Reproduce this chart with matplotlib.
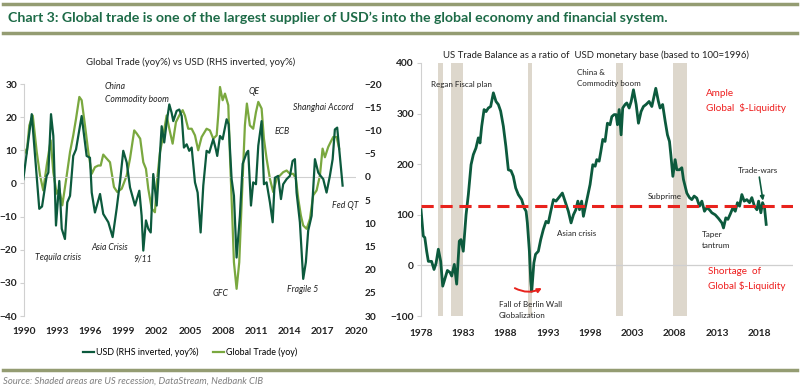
import matplotlib
matplotlib.use("Agg")
import matplotlib.pyplot as plt
from matplotlib.lines import Line2D
from matplotlib.patches import FancyArrowPatch

plt.rcParams['font.family'] = ['Lato', 'DejaVu Sans']

# ---- left chart: global trade vs USD (inverted) ----
usd_years = [1989.94, 1990.70, 1991.38, 1991.63, 1992.05, 1992.20, 1992.44, 1992.65, 1992.89, 1993.19,
             1993.41, 1993.70, 1993.91, 1994.16, 1994.45, 1994.70, 1995.21, 1995.66, 1995.96, 1996.12,
             1996.41, 1996.87, 1997.16, 1997.62, 1998.01, 1998.37, 1998.67, 1998.97, 1999.28, 1999.58,
             2000.03, 2000.42, 2000.63, 2000.78, 2001.02, 2001.23, 2001.45, 2001.68, 2001.83, 2001.99,
             2002.22, 2002.44, 2002.67, 2002.89, 2003.13, 2003.34, 2003.49, 2003.79, 2004.03, 2004.25,
             2004.45, 2004.70, 2004.93, 2005.15, 2005.45, 2005.69, 2005.96, 2006.20, 2006.50, 2006.74,
             2006.96, 2007.10, 2007.34, 2007.46, 2007.71, 2007.95, 2008.31, 2008.49, 2008.76, 2008.97,
             2009.21, 2009.51, 2009.76, 2010.12, 2010.26, 2010.51, 2010.71, 2010.96, 2011.17, 2011.47,
             2011.68, 2011.92, 2012.22, 2012.47, 2012.67, 2012.97, 2013.22, 2013.42, 2013.73, 2014.03,
             2014.27, 2014.48, 2014.63, 2014.93, 2015.23, 2015.47, 2015.68, 2015.99, 2016.29, 2016.59,
             2016.80, 2017.04, 2017.34, 2017.64, 2017.89, 2018.09, 2018.30, 2018.54, 2018.79]
usd_vals = [0.5, -13.5, 6.9, 6.4, -0.2, -0.9, -13.5, -8.8, 10.5, 0.9,
            11.2, 13.4, 5.5, 4.1, -4.5, -5.9, -13.1, -4.5, -4.1, 3.4,
            7.7, 3.7, 8.0, 9.8, 13.0, 6.9, 1.2, -5.6, -3.1, 2.3,
            6.2, 3.0, 8.4, 15.9, 9.4, 11.2, 12.0, -0.6, 2.6, 6.2,
            -2.4, -10.9, -7.4, -11.7, -15.6, -13.8, -12.0, -14.2, -14.5, -13.1,
            -6.3, -7.0, -5.6, -6.3, 1.2, 3.4, 12.0, 1.9, -5.6, -5.2,
            -7.0, -8.1, -5.9, -4.5, -8.8, -8.1, -12.4, -11.3, 0.5, 4.1,
            17.4, 8.4, -2.8, -5.2, -5.6, 6.2, 1.2, 1.6, -6.7, -12.0,
            1.6, 1.2, 5.5, 9.8, 0.2, -0.2, 4.8, 1.6, 0.5, -0.2,
            -3.4, -3.8, 3.4, 9.8, 22.0, 18.4, 11.6, 8.4, -3.8, -0.9,
            -0.2, 0.5, 3.4, -0.2, -3.8, -10.2, -10.6, -4.5, 1.9]

trade_years = [1989.94, 1990.24, 1990.48, 1990.79, 1991.15, 1991.45, 1991.74, 1992.05, 1992.41, 1992.65,
               1992.95, 1993.19, 1993.46, 1993.86, 1994.16, 1994.45, 1994.70, 1995.00, 1995.21, 1995.51,
               1995.81, 1996.12, 1996.41, 1996.71, 1996.93, 1997.16, 1997.47, 1997.77, 1998.13, 1998.43,
               1998.83, 1999.28, 1999.58, 1999.96, 2000.20, 2000.50, 2000.78, 2001.02, 2001.23, 2001.54,
               2001.83, 2002.04, 2002.29, 2002.58, 2002.89, 2003.13, 2003.43, 2003.73, 2004.03, 2004.34,
               2004.54, 2004.84, 2005.15, 2005.45, 2005.74, 2006.05, 2006.50, 2006.80, 2007.10, 2007.41,
               2007.55, 2007.71, 2007.95, 2008.16, 2008.46, 2008.61, 2008.85, 2008.97, 2009.21, 2009.45,
               2009.67, 2009.96, 2010.14, 2010.41, 2010.71, 2010.96, 2011.17, 2011.47, 2011.68, 2011.92,
               2012.22, 2012.52, 2012.83, 2013.13, 2013.42, 2013.73, 2014.03, 2014.33, 2014.57, 2014.78,
               2015.02, 2015.23, 2015.54, 2015.84, 2016.13, 2016.44, 2016.74, 2016.98, 2017.19, 2017.49,
               2017.71, 2017.94, 2018.25, 2018.48]
trade_vals = [11.0, 9.0, 17.5, 20.5, 9.5, 2.4, -2.1, 5.4, 13.0, 3.4,
              -3.1, -1.6, -6.6, 2.4, 9.5, 14.5, 19.5, 26.1, 25.1, 17.5,
              9.5, 2.9, 4.9, 5.4, 5.4, 8.7, 7.5, 6.4, -1.1, -2.6,
              -1.6, 2.4, 7.5, 16.0, 15.0, 13.5, 6.4, 4.4, -1.6, -7.6,
              -8.7, 1.4, 9.5, 14.5, 20.5, 16.5, 12.0, 18.5, 20.5, 22.1,
              20.5, 16.5, 16.5, 14.5, 10.0, 14.0, 16.5, 16.0, 13.5, 14.5,
              20.5, 29.1, 25.1, 27.1, 23.6, 8.5, -12.7, -23.8, -31.8, -23.8,
              -5.6, 17.5, 24.1, 17.5, 16.5, 21.5, 24.6, 22.6, 13.5, 7.5,
              1.4, -2.6, 1.4, 2.4, 3.4, 3.9, 2.9, 2.9, 1.4, -4.6,
              -9.7, -12.7, -13.7, -10.7, -3.6, -2.1, 2.4, 10.5, 7.9, 11.0,
              12.5, 14.0, 14.0, 10.5]

left_xticks = list(range(1990, 2021, 3))
left_yticks = list(range(-40, 31, 10))
rhs_yticks = list(range(-20, 31, 5))

# ---- right chart: US trade balance / USD monetary base ----
tb_years = [1978.00, 1978.27, 1978.45, 1978.67, 1978.87, 1979.25, 1979.54, 1979.78, 1980.05, 1980.33,
            1980.57, 1980.85, 1981.12, 1981.44, 1981.63, 1981.94, 1982.22, 1982.53, 1982.73, 1983.00,
            1983.33, 1983.60, 1983.92, 1984.19, 1984.50, 1984.78, 1984.98, 1985.18, 1985.46, 1985.70,
            1985.96, 1986.24, 1986.56, 1986.87, 1987.15, 1987.42, 1987.74, 1988.04, 1988.33, 1988.65,
            1988.92, 1989.20, 1989.51, 1989.91, 1990.19, 1990.43, 1990.58, 1990.82, 1990.98, 1991.10,
            1991.35, 1991.55, 1991.88, 1992.16, 1992.47, 1992.79, 1993.06, 1993.35, 1993.66, 1993.97,
            1994.25, 1994.72, 1995.04, 1995.43, 1995.75, 1996.03, 1996.31, 1996.55, 1996.75, 1997.00,
            1997.21, 1997.41, 1997.68, 1998.00, 1998.32, 1998.60, 1998.79, 1999.07, 1999.27, 1999.50,
            1999.77, 2000.05, 2000.36, 2000.57, 2000.84, 2001.08, 2001.24, 2001.44, 2001.67, 2001.86,
            2002.14, 2002.34, 2002.62, 2002.86, 2003.13, 2003.45, 2003.72, 2004.03, 2004.31, 2004.62,
            2004.98, 2005.30, 2005.77, 2006.08, 2006.28, 2006.58, 2006.88, 2007.15, 2007.39, 2007.55,
            2007.79, 2008.06, 2008.26, 2008.57, 2008.85, 2009.04, 2009.44, 2009.75, 2010.03, 2010.31,
            2010.62, 2010.94, 2011.22, 2011.53, 2011.80, 2012.12, 2012.40, 2012.80, 2013.18, 2013.59,
            2013.78, 2014.05, 2014.30, 2014.57, 2014.89, 2015.17, 2015.43, 2015.68, 2015.95, 2016.23,
            2016.54, 2016.86, 2017.13, 2017.44, 2017.73, 2017.93, 2018.20, 2018.40, 2018.63, 2018.83]
tb_vals = [110, 58, 55, 28, 8, 8, -8, 4, 32, 8,
           -41, -25, -10, -14, -21, 2, -37, 48, 51, 28,
           100, 140, 199, 219, 232, 252, 242, 275, 308, 304,
           311, 314, 341, 324, 318, 305, 275, 235, 189, 187,
           176, 153, 140, 130, 114, 107, 84, 28, -31, -51,
           5, 22, 28, 51, 71, 87, 84, 107, 130, 127,
           133, 143, 127, 107, 84, 100, 110, 127, 110, 127,
           97, 113, 134, 160, 199, 196, 209, 206, 225, 249,
           245, 281, 278, 294, 298, 298, 278, 308, 258, 311,
           318, 321, 311, 324, 347, 318, 281, 304, 314, 318,
           324, 314, 350, 324, 311, 318, 285, 258, 245, 219,
           176, 209, 189, 189, 193, 170, 143, 134, 130, 137,
           133, 117, 127, 107, 114, 110, 104, 100, 93, 84,
           74, 94, 91, 101, 114, 107, 124, 117, 140, 127,
           130, 124, 134, 117, 110, 127, 104, 124, 114, 81]
liquidity_level = 118
recessions = [(1980.0, 1980.55), (1981.5, 1983.0), (1990.7, 1991.15), (2001.1, 2001.95), (2007.8, 2009.5)]
right_xticks = list(range(1978, 2019, 5))
right_yticks = list(range(-100, 401, 100))

dark = '#0c5a3d'
light = '#7aa83f'
title_green = '#1d6b47'
rule = '#949c72'
tick_col = '#222222'

fig = plt.figure(figsize=(8, 3.86), dpi=100)

# header / footer
for y in [1 - 4 / 386, 1 - 33 / 386, 1 - 370 / 386]:
    fig.add_artist(Line2D([0.004, 0.996], [y, y], transform=fig.transFigure, color=rule, lw=2.5))
fig.text(0.01, 1 - 18 / 386, 'Chart 3: Global trade is one of the largest supplier of USD\u2019s into the global economy and financial system.',
         fontsize=10.15, fontweight='bold', color=title_green, va='center', ha='left')
fig.text(0.004, 1 - 381 / 386, 'Source: Shaded areas are US recession, DataStream, Nedbank CIB',
         fontsize=6.8, style='italic', color='#7f7f7f', va='center', ha='left')

# ---- left ----
ax1 = fig.add_axes([24 / 800, 1 - 316 / 386, 332 / 800, 232 / 386])
ax2 = ax1.twinx()
l_trade, = ax1.plot(trade_years, trade_vals, color=light, lw=1.6, label='Global Trade (yoy)')
l_usd, = ax2.plot(usd_years, usd_vals, color=dark, lw=1.6, label='USD (RHS inverted, yoy%)')
ax2.axhline(0, color='#d0d0d0', lw=0.8, zorder=0)
ax1.set_xlim(1990, 2020)
ax1.set_ylim(-40, 30)
ax2.set_ylim(30, -20)
ax1.set_xticks(left_xticks)
ax1.set_yticks(left_yticks)
ax2.set_yticks(rhs_yticks)
for a in (ax1, ax2):
    for s in a.spines.values():
        s.set_visible(False)
ax1.spines['left'].set_visible(True)
ax1.spines['left'].set_color('#d0d0d0')
ax1.tick_params(axis='x', length=0, pad=8, labelsize=7.3, colors=tick_col)
ax1.tick_params(axis='y', length=3, color='#d0d0d0', pad=2, labelsize=7.3, labelcolor=tick_col)
ax2.tick_params(axis='y', length=0, pad=6, labelsize=7.3, labelcolor=tick_col)
for lab in ax1.get_xticklabels() + ax1.get_yticklabels() + ax2.get_yticklabels():
    lab.set_fontweight('bold')
fig.text(191 / 800, 1 - 62 / 386, 'Global Trade (yoy%) vs USD (RHS inverted, yoy%)', fontsize=6.9,
         color='#222222', ha='center', va='center')
ax1.legend(handles=[l_usd, l_trade], loc='upper center', bbox_to_anchor=(0.5, -0.1), ncol=2,
           frameon=False, fontsize=6.4, handlelength=1.3, handletextpad=0.2, columnspacing=1.6)

notes_left = [
    ('China\nCommodity boom', 105, 93),
    ('QE', 249, 92),
    ('Shanghai Accord', 293, 108),
    ('ECB', 275, 131),
    ('Tequila crisis', 35, 258),
    ('Asia Crisis', 91, 247),
    ('9/11', 133, 259),
    ('GFC', 213, 294),
    ('Fragile 5', 287, 289),
    ('Fed QT', 332, 206),
]
for txt, px, py in notes_left:
    fig.text(px / 800, 1 - py / 386, txt, fontsize=6.2, style='italic', color='#222222',
             ha='left', va='center', linespacing=1.6)

# ---- right ----
ax3 = fig.add_axes([421 / 800, 1 - 316 / 386, 372 / 800, 253 / 386])
for a, b in recessions:
    ax3.axvspan(a, b, color='#ddd7cc', lw=0, zorder=0)
ax3.axhline(0, color='#cfcfcf', lw=0.9, zorder=1)
ax3.plot(tb_years, tb_vals, color=dark, lw=2.0, zorder=3)
ax3.axhline(liquidity_level, color='#e8231d', lw=2.2, ls=(0, (4, 2.2)), zorder=4)
ax3.set_xlim(1978, 2022)
ax3.set_ylim(-100, 400)
ax3.set_xticks(right_xticks)
ax3.set_yticks(right_yticks)
for s in ax3.spines.values():
    s.set_visible(False)
ax3.spines['left'].set_visible(True)
ax3.spines['left'].set_color('#d0d0d0')
ax3.tick_params(axis='x', length=0, pad=9, labelsize=7.3, colors=tick_col)
ax3.tick_params(axis='y', length=3, color='#d0d0d0', pad=2, labelsize=7.3, labelcolor=tick_col)
for lab in ax3.get_xticklabels() + ax3.get_yticklabels():
    lab.set_fontweight('bold')
fig.text(443 / 800, 1 - 55 / 386, 'US Trade Balance as a ratio of  USD monetary base (based to 100=1996)',
         fontsize=6.9, color='#222222', ha='left', va='center')

notes_right = [
    ('Regan Fiscal plan', 431, 84),
    ('China &\nCommodity boom', 577, 78),
    ('Subprime', 648, 197),
    ('Asian crisis', 557, 233),
    ('Taper\ntantrum', 702, 240),
    ('Fall of Berlin Wall\nGlobalization', 499, 310),
]
for txt, px, py in notes_right:
    fig.text(px / 800, 1 - py / 386, txt, fontsize=5.8, color='#222222', ha='left', va='center', linespacing=1.8)
fig.text(706 / 800, 1 - 101 / 386, 'Ample\nGlobal  $-Liquidity', fontsize=7.1, color='#ee1c1c',
         ha='left', va='center', linespacing=1.7)
fig.text(708 / 800, 1 - 279 / 386, 'Shortage  of\nGlobal $-Liquidity', fontsize=7.1, color='#ee1c1c',
         ha='left', va='center', linespacing=1.7)

ax3.annotate('Trade-wars', xy=(2018.45, 128), xytext=(2017.9, 180), fontsize=5.8, color='#222222',
             ha='center', va='bottom',
             arrowprops=dict(arrowstyle='-|>', color=dark, lw=1.2, mutation_scale=6, shrinkA=0, shrinkB=0))
arc = FancyArrowPatch((1989.1, -45), (1992.3, -45), connectionstyle='arc3,rad=0.25',
                      arrowstyle='-|>', mutation_scale=6, color='#e8231d', lw=1.4, zorder=5,
                      shrinkA=0, shrinkB=0)
ax3.add_patch(arc)

fig.savefig('out.png', dpi=100)
